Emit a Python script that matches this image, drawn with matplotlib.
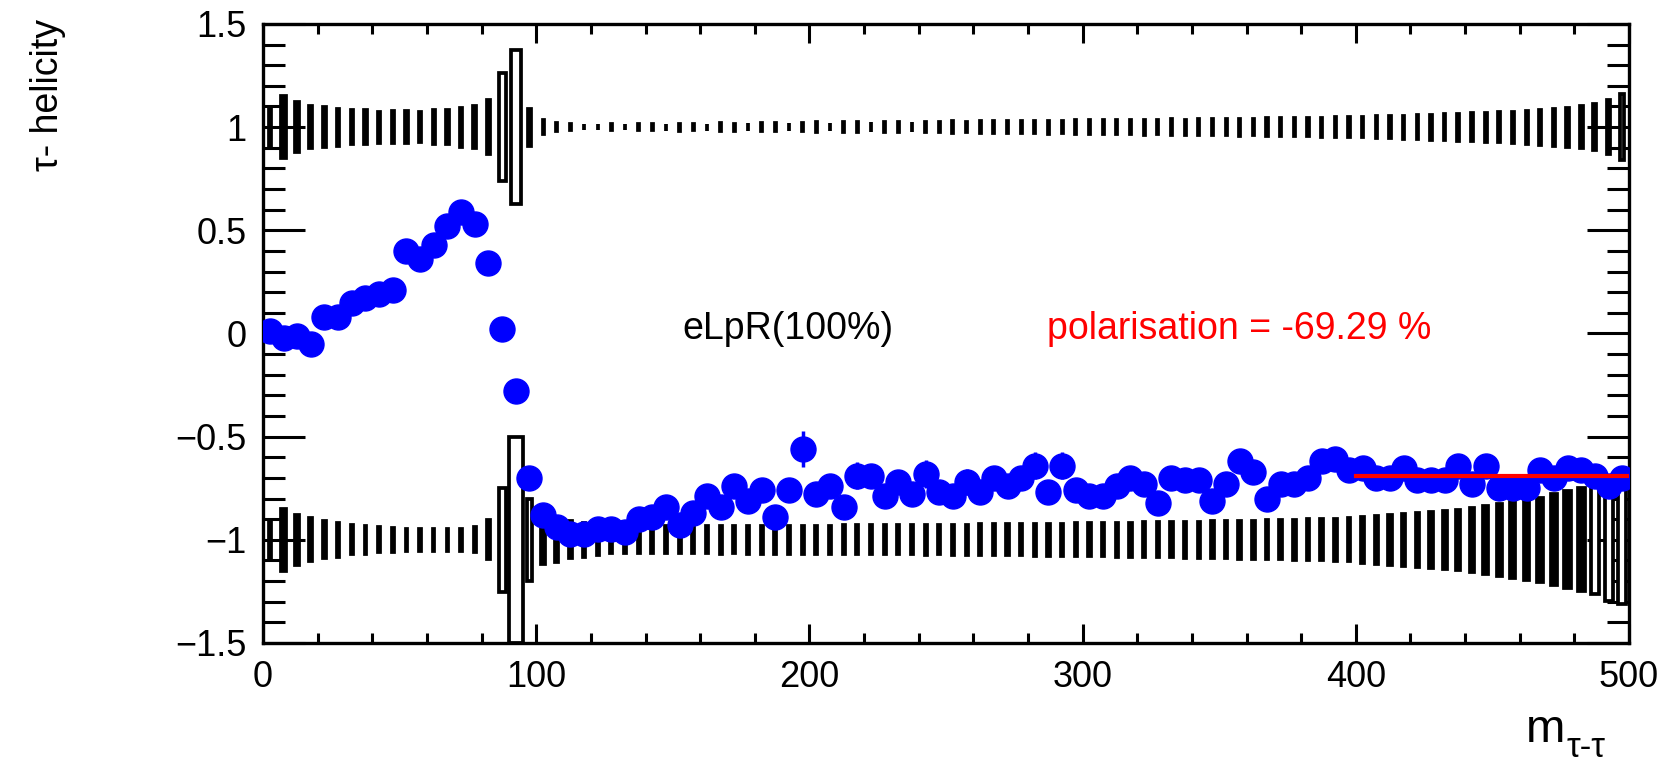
import matplotlib
matplotlib.use("Agg")
import matplotlib.pyplot as plt
import numpy as np
from matplotlib.ticker import MultipleLocator, FuncFormatter

plt.rcParams["font.family"] = ["Liberation Sans", "DejaVu Sans"]

# 5 GeV mass bins from 0 to 500
bin_edges = np.arange(0, 505, 5)
bin_centres = 0.5 * (bin_edges[:-1] + bin_edges[1:])

# mean tau- helicity per mass bin
helicity = [
    0.01, -0.02, -0.01, -0.05, 0.08, 0.08, 0.15, 0.17, 0.19, 0.21,
    0.40, 0.36, 0.43, 0.52, 0.59, 0.53, 0.34, 0.02, -0.28, -0.70,
    -0.88, -0.94, -0.97, -0.97, -0.95, -0.95, -0.96, -0.90, -0.89, -0.84,
    -0.93, -0.87, -0.79, -0.84, -0.74, -0.81, -0.76, -0.89, -0.76, -0.56,
    -0.78, -0.74, -0.84, -0.69, -0.69, -0.79, -0.72, -0.78, -0.68, -0.77,
    -0.79, -0.72, -0.77, -0.70, -0.74, -0.70, -0.64, -0.77, -0.64, -0.76,
    -0.79, -0.79, -0.74, -0.70, -0.73, -0.82, -0.70, -0.71, -0.71, -0.81,
    -0.73, -0.62, -0.67, -0.80, -0.73, -0.73, -0.70, -0.62, -0.61, -0.66,
    -0.65, -0.70, -0.70, -0.65, -0.71, -0.71, -0.71, -0.64, -0.73, -0.64,
    -0.75, -0.75, -0.75, -0.66, -0.70, -0.65, -0.66, -0.69, -0.74, -0.70,
]
helicity_err = [
    0.02, 0.02, 0.02, 0.02, 0.02, 0.02, 0.02, 0.02, 0.02, 0.02,
    0.02, 0.02, 0.02, 0.02, 0.02, 0.02, 0.02, 0.02, 0.02, 0.03,
    0.03, 0.03, 0.03, 0.03, 0.03, 0.03, 0.03, 0.03, 0.03, 0.03,
    0.04, 0.04, 0.04, 0.04, 0.04, 0.04, 0.04, 0.04, 0.04, 0.085,
    0.05, 0.05, 0.05, 0.065, 0.05, 0.05, 0.05, 0.05, 0.068, 0.05,
    0.05, 0.065, 0.05, 0.05, 0.05, 0.05, 0.065, 0.05, 0.065, 0.05,
    0.05, 0.05, 0.05, 0.05, 0.05, 0.05, 0.05, 0.05, 0.05, 0.05,
    0.05, 0.05, 0.05, 0.05, 0.05, 0.05, 0.05, 0.05, 0.05, 0.05,
    0.05, 0.05, 0.05, 0.05, 0.05, 0.05, 0.05, 0.05, 0.05, 0.05,
    0.05, 0.05, 0.05, 0.05, 0.05, 0.05, 0.05, 0.05, 0.05, 0.05,
]

# relative box size (|content| / max) of the true-helicity histogram, rows h=+1 and h=-1
box_plus = [
    0.18, 0.30, 0.244, 0.202, 0.193, 0.18, 0.167, 0.163, 0.15, 0.155,
    0.158, 0.147, 0.163, 0.163, 0.188, 0.202, 0.264, 0.52, 0.748, 0.18,
    0.066, 0.037, 0.026, 0.03, 0.028, 0.03, 0.03, 0.032, 0.03, 0.033,
    0.035, 0.03, 0.035, 0.038, 0.035, 0.04, 0.038, 0.04, 0.042, 0.04,
    0.045, 0.042, 0.048, 0.045, 0.05, 0.048, 0.05, 0.052, 0.045, 0.05,
    0.055, 0.05, 0.058, 0.055, 0.06, 0.058, 0.06, 0.062, 0.06, 0.065,
    0.065, 0.068, 0.07, 0.065, 0.072, 0.07, 0.075, 0.072, 0.078, 0.075,
    0.08, 0.082, 0.08, 0.085, 0.088, 0.085, 0.09, 0.092, 0.095, 0.098,
    0.10, 0.105, 0.11, 0.112, 0.118, 0.12, 0.125, 0.13, 0.135, 0.14,
    0.145, 0.15, 0.16, 0.17, 0.18, 0.19, 0.20, 0.22, 0.26, 0.32,
]
box_minus = [
    0.19, 0.30, 0.244, 0.209, 0.18, 0.163, 0.139, 0.136, 0.123, 0.115,
    0.104, 0.104, 0.104, 0.104, 0.104, 0.123, 0.188, 0.503, 1.0, 0.40,
    0.236, 0.212, 0.18, 0.163, 0.147, 0.131, 0.131, 0.13, 0.13, 0.13,
    0.13, 0.13, 0.13, 0.135, 0.13, 0.135, 0.135, 0.135, 0.135, 0.135,
    0.135, 0.135, 0.14, 0.14, 0.14, 0.14, 0.14, 0.14, 0.145, 0.14,
    0.145, 0.145, 0.15, 0.15, 0.15, 0.15, 0.155, 0.155, 0.155, 0.16,
    0.16, 0.16, 0.165, 0.165, 0.17, 0.17, 0.17, 0.175, 0.175, 0.18,
    0.18, 0.185, 0.185, 0.19, 0.19, 0.195, 0.2, 0.2, 0.205, 0.21,
    0.22, 0.23, 0.24, 0.25, 0.26, 0.27, 0.28, 0.29, 0.31, 0.33,
    0.35, 0.37, 0.39, 0.41, 0.44, 0.47, 0.50, 0.53, 0.59, 0.62,
]
# bins with negative content are drawn as empty boxes
hollow_plus = [0, 17, 18, 98, 99]
hollow_minus = [0, 17, 18, 19, 97, 98, 99]

fit_range = [400, 500]
fit_value = -0.6929
sample_label = "eLpR(100%)"
fit_label = "polarisation = -69.29 %"

fig = plt.figure(figsize=(16.71, 7.63), dpi=100)
ax = fig.add_axes([0.1574, 0.1573, 0.8175, 0.8113])

xbin = 5.0
ybin = 1.0
edge_lw = 2.7


def draw_row(row_y, sizes, hollow):
    sizes = np.asarray(sizes)
    face = ["white" if i in hollow else "black" for i in range(len(sizes))]
    ax.bar(bin_centres, sizes * ybin, width=sizes * xbin,
           bottom=row_y - sizes * ybin / 2, color=face,
           edgecolor="black", linewidth=edge_lw, zorder=2)


draw_row(1.0, box_plus, hollow_plus)
draw_row(-1.0, box_minus, hollow_minus)

ax.errorbar(bin_centres, helicity, yerr=helicity_err, fmt="o", color="blue",
            markersize=18, elinewidth=2.5, capsize=0, zorder=3)

ax.plot(fit_range, [fit_value, fit_value], color="red", lw=3.0, zorder=4)

ax.text(192, 0.02, sample_label, fontsize=27, ha="center", va="center")
ax.text(287, 0.02, fit_label, fontsize=27, color="red", ha="left", va="center")

ax.set_xlim(0, 500)
ax.set_ylim(-1.5, 1.5)
ax.xaxis.set_major_locator(MultipleLocator(100))
ax.xaxis.set_minor_locator(MultipleLocator(20))
ax.yaxis.set_major_locator(MultipleLocator(0.5))
ax.yaxis.set_minor_locator(MultipleLocator(0.1))


def fmt(v, pos):
    s = f"{v:g}"
    return s.replace("-", "\u2212")


ax.xaxis.set_major_formatter(FuncFormatter(fmt))
ax.yaxis.set_major_formatter(FuncFormatter(fmt))

ax.tick_params(axis="both", which="both", direction="in", top=True, right=True,
               width=2.2, labelsize=26)
ax.tick_params(axis="x", which="major", length=13.5, pad=12)
ax.tick_params(axis="x", which="minor", length=7)
ax.tick_params(axis="y", which="major", length=30, pad=12)
ax.tick_params(axis="y", which="minor", length=16)
for sp in ax.spines.values():
    sp.set_linewidth(2.4)

fig.text(0.029, 0.975, "\u03c4- helicity", rotation=90, fontsize=27,
         ha="center", va="top")
m_txt = fig.text(0.913, 0.028, "m", fontsize=34, ha="left", va="baseline")
ax.annotate("\u03c4-\u03c4", xy=(1.0, 0.0), xycoords=m_txt, xytext=(1, -4),
            textcoords="offset points", fontsize=25, ha="left", va="baseline")

fig.savefig("out.png", dpi=100)
